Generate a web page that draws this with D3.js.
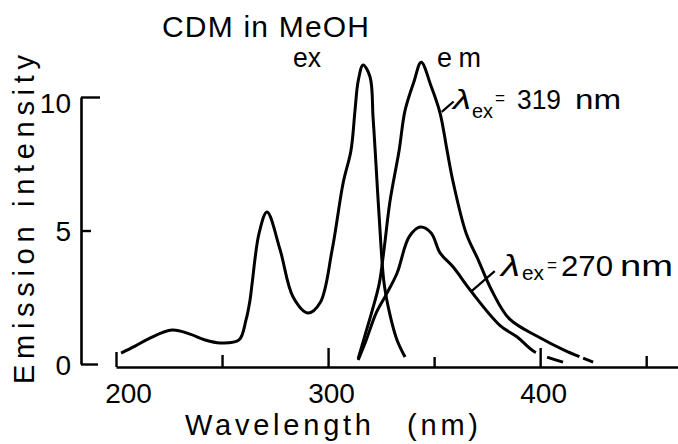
<!DOCTYPE html>
<html>
<head>
<meta charset="utf-8">
<script src="https://cdn.jsdelivr.net/npm/d3@7"></script>
<style>
  body { margin: 0; background: #fff; }
  svg { display: block; }
  text { font-family: "Liberation Sans", Arial, sans-serif; fill: #000; }
</style>
</head>
<body>
<svg id="chart" width="678" height="444"></svg>
<script>
// Excitation spectrum of CDM in methanol
const exWavelength = [202.4, 209, 216, 226.4, 234.9, 242, 249.1, 258, 261.3, 263.2, 264.2, 267.5, 271.2, 277.4, 283.5, 290.6, 296.3, 301.9, 307.1, 310.8, 312.7, 314.2, 316.5, 319.8, 321.2, 322.2, 324.1, 326.4, 329.2, 332.5, 336.3];
const exIntensity  = [0.41, 0.67, 0.97, 1.27, 1.12, 0.9, 0.79, 0.9, 1.65, 2.4, 3.03, 4.91, 5.69, 4.27, 2.51, 1.91, 2.3, 4.27, 6.78, 8.0, 9.5, 10.6, 11.2, 10.75, 9.25, 8.0, 5.5, 3.03, 1.84, 0.9, 0.26];

// Emission spectrum, excitation at 319 nm
const em319Wavelength = [314.2, 317.5, 320.8, 324.1, 326.4, 329.2, 333.5, 336.3, 340.6, 343.9, 348.6, 352.8, 356.1, 359, 365.1, 370.8, 376.9, 385.4, 399.5, 411.8, 425];
const em319Intensity  = [0.2, 1.1, 2.0, 3.0, 4.3, 6.1, 8.0, 9.5, 10.6, 11.3, 10.4, 9.4, 8.0, 6.8, 4.9, 3.9, 2.8, 1.7, 1.0, 0.5, 0.07];

// Emission spectrum, excitation at 270 nm
const em270Wavelength = [314.2, 318, 322.6, 327.4, 332.5, 338.2, 343.4, 348.6, 352.8, 359, 367, 381, 389.2, 397.5, 410.8];
const em270Intensity  = [0.15, 0.9, 1.9, 2.6, 3.4, 4.76, 5.13, 4.91, 4.16, 3.63, 2.77, 1.45, 1.01, 0.45, 0.07];

// Axis ticks
const xTicks = [200, 250, 300, 350, 400, 450];
const xTickLabels = ["200", "", "300", "", "400", ""];
const yTicks = [0, 5, 10];
const yTickLabels = ["0", "5", "10"];

const svg = d3.select("#chart");

const x = d3.scaleLinear().domain([200, 465]).range([116, 678]);
const y = d3.scaleLinear().domain([0, 10]).range([364, 97]);

const ink = "#000";

// x axis: ticks point up into the plot, long ones carry labels
const xAxis = d3.axisBottom(x)
  .tickValues(xTicks)
  .tickFormat((d, i) => xTickLabels[i])
  .tickSizeOuter(0)
  .tickPadding(18);
const gx = svg.append("g").attr("transform", "translate(0,367)").call(xAxis);
gx.select(".domain").attr("stroke", ink).attr("stroke-width", 2.6);
const xTickLen = { 200: 15, 250: 12, 300: 19, 350: 10, 400: 19, 450: 11 };
gx.selectAll(".tick line")
  .attr("stroke", ink).attr("stroke-width", 2.4)
  .attr("y2", d => -xTickLen[d]);
gx.selectAll(".tick text")
  .attr("font-size", 28)
  .attr("dx", d => d === 200 ? 12 : 3)
  .attr("dy", "0.71em")
  .attr("y", 16);

// y axis: ticks point right into the plot
const yAxis = d3.axisLeft(y)
  .tickValues(yTicks)
  .tickFormat((d, i) => yTickLabels[i])
  .tickSizeOuter(0)
  .tickPadding(10);
const gy = svg.append("g").attr("transform", "translate(81,0)").call(yAxis);
gy.select(".domain").attr("stroke", ink).attr("stroke-width", 2.6);
const yTickLen = { 0: 17, 5: 10, 10: 19 };
gy.selectAll(".tick line")
  .attr("stroke", ink).attr("stroke-width", 2.4)
  .attr("x2", d => yTickLen[d]);
gy.selectAll(".tick text")
  .attr("font-size", 28)
  .attr("x", -10)
  .attr("dy", d => d === 10 ? "0.55em" : "0.36em");

// Spectra
const line = d3.line()
  .x(d => x(d[0]))
  .y(d => y(d[1]))
  .curve(d3.curveCatmullRom.alpha(0.5));

// tail: [gap, dash] at the end of each trace, in px along the path
const series = [
  { pts: d3.zip(exWavelength, exIntensity), tail: null },
  { pts: d3.zip(em319Wavelength, em319Intensity), tail: [4, 11] },
  { pts: d3.zip(em270Wavelength, em270Intensity), tail: [12, 17] }
];
svg.append("g").selectAll("path")
  .data(series)
  .join("path")
  .attr("d", d => line(d.pts))
  .attr("fill", "none")
  .attr("stroke", ink)
  .attr("stroke-width", 3)
  .attr("stroke-linejoin", "round")
  .each(function (d) {
    if (!d.tail) return;
    const L = this.getTotalLength();
    d3.select(this).attr("stroke-dasharray", `${L - d.tail[0] - d.tail[1]} ${d.tail[0]} ${d.tail[1]} 1000`);
  });

// Leader lines from the emission curves to their labels
const leaders = [
  [[353.6, 9.44], [359.2, 9.83]],
  [[367.4, 2.71], [378.6, 3.48]]
];
svg.append("g").selectAll("line")
  .data(leaders)
  .join("line")
  .attr("x1", d => x(d[0][0])).attr("y1", d => y(d[0][1]))
  .attr("x2", d => x(d[1][0])).attr("y2", d => y(d[1][1]))
  .attr("stroke", ink).attr("stroke-width", 2.2);

// Labels
const T = (txt, px, py, size, len, adj) => {
  const t = svg.append("text").attr("x", px).attr("y", py).attr("font-size", size).text(txt);
  if (len) t.attr("textLength", len).attr("lengthAdjust", adj || "spacingAndGlyphs");
  return t;
};

T("CDM in MeOH", 162, 37, 30, 207, "spacing");
T("ex", 293, 67, 27, 28);
T("em", 437, 67, 27, 44, "spacing");

// λex = 319 nm
T("λ", 453, 108.5, 27, 18).attr("font-style", "italic");
T("ex", 472, 118, 20, 21);
T("=", 495, 104, 18, 10);
T("319", 517, 108.5, 27, 44);
T("nm", 575, 108.5, 27, 46);

// λex = 270 nm
T("λ", 501, 276, 29, 19).attr("font-style", "italic");
T("ex", 522, 280, 21, 22);
T("=", 547, 271, 19, 10);
T("270", 561, 276, 29, 52);
T("nm", 620, 276, 29, 53);

// Axis titles
T("Wavelength", 185, 435, 29, 186, "spacing");
T("(nm)", 407, 435, 29, 71, "spacing");

svg.append("text")
  .attr("transform", "translate(34,384) rotate(-90)")
  .attr("font-size", 29)
  .attr("textLength", 329)
  .attr("lengthAdjust", "spacing")
  .text("Emission intensity");
</script>
</body>
</html>
